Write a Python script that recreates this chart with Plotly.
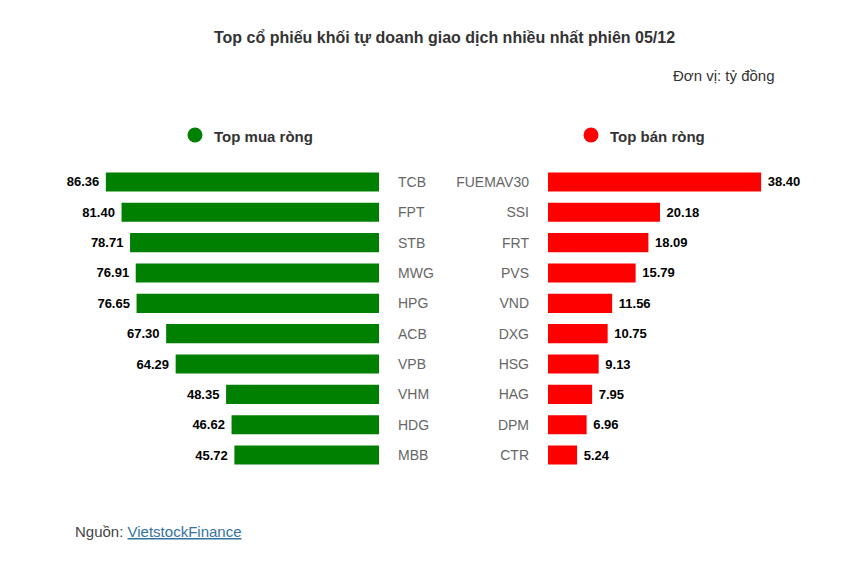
import plotly.graph_objects as go

# -------------------------------------------------
# Data: top net buy / net sell, units: ty dong
# -------------------------------------------------

buy_tickers = ["TCB", "FPT", "STB", "MWG", "HPG", "ACB", "VPB", "VHM", "HDG", "MBB"]
buy_values = [86.36, 81.40, 78.71, 76.91, 76.65, 67.30, 64.29, 48.35, 46.62, 45.72]

sell_tickers = ["FUEMAV30", "SSI", "FRT", "PVS", "VND", "DXG", "HSG", "HAG", "DPM", "CTR"]
sell_values = [38.40, 20.18, 18.09, 15.79, 11.56, 10.75, 9.13, 7.95, 6.96, 5.24]

W, H = 846, 570
OFF = 8  # page body margin
FONT = "Arial, Liberation Sans, sans-serif"


def px_x(p):
    return (p - OFF) / W


def px_y(p):
    return 1 - (p - OFF) / H


fig = go.Figure()

fig.add_trace(go.Bar(
    x=buy_values,
    y=buy_tickers,
    orientation="h",
    marker=dict(color="#008000", line=dict(width=0)),
    text=[f"{v:.2f}\u00a0" for v in buy_values],
    textposition="outside",
    textfont=dict(family=FONT, size=13, color="#000000", weight="bold"),
    xaxis="x",
    yaxis="y",
    hoverinfo="skip",
))

fig.add_trace(go.Bar(
    x=sell_values,
    y=sell_tickers,
    orientation="h",
    marker=dict(color="#ff0000", line=dict(width=0)),
    text=[f"\u00a0{v:.2f}" for v in sell_values],
    textposition="outside",
    textfont=dict(family=FONT, size=13, color="#000000", weight="bold"),
    xaxis="x2",
    yaxis="y2",
    hoverinfo="skip",
))

# plot area: left bars end at x=379, right bars start at x=548
left_x0, left_x1 = 40, 379
right_x0, right_x1 = 548, 820
y_top, y_bot = 166.8, 470.2

fig.update_layout(
    width=W,
    height=H,
    margin=dict(l=0, r=0, t=0, b=0),
    paper_bgcolor="white",
    plot_bgcolor="white",
    showlegend=False,
    bargap=0.37,
    font=dict(family=FONT, color="#333333"),
    xaxis=dict(
        domain=[px_x(left_x0), px_x(left_x1)],
        range=[(left_x1 - left_x0) / 3.163, 0],
        visible=False,
        anchor="y",
    ),
    yaxis=dict(
        domain=[px_y(y_bot), px_y(y_top)],
        autorange="reversed",
        side="right",
        anchor="x",
        showgrid=False,
        zeroline=False,
        showline=False,
        ticks="",
        ticklabelstandoff=18,
        tickfont=dict(family=FONT, size=14, color="#666666"),
    ),
    xaxis2=dict(
        domain=[px_x(right_x0), px_x(right_x1)],
        range=[0, (right_x1 - right_x0) / 5.55],
        visible=False,
        anchor="y2",
    ),
    yaxis2=dict(
        domain=[px_y(y_bot), px_y(y_top)],
        autorange="reversed",
        side="left",
        anchor="x2",
        showgrid=False,
        zeroline=False,
        showline=False,
        ticks="",
        ticklabelstandoff=18,
        tickfont=dict(family=FONT, size=14, color="#666666"),
    ),
)

# titles and notes
fig.add_annotation(
    text="<b>Top cổ phiếu khối tự doanh giao dịch nhiều nhất phiên 05/12</b>",
    x=px_x(444), y=px_y(37), xref="paper", yref="paper",
    xanchor="center", yanchor="middle", showarrow=False,
    font=dict(family=FONT, size=16, color="#333333"),
)
fig.add_annotation(
    text="Đơn vị: tỷ đồng",
    x=px_x(777), y=px_y(75), xref="paper", yref="paper",
    xanchor="right", yanchor="middle", showarrow=False,
    font=dict(family=FONT, size=15, color="#333333"),
)

# panel headers with coloured dots
for cx, label, color in [(195, "Top mua ròng", "#008000"), (591, "Top bán ròng", "#ff0000")]:
    r = 7.5
    fig.add_shape(
        type="circle", xref="paper", yref="paper",
        x0=px_x(cx - r), x1=px_x(cx + r), y0=px_y(135 + r), y1=px_y(135 - r),
        fillcolor=color, line=dict(width=0),
    )
    fig.add_annotation(
        text=f"<b>{label}</b>",
        x=px_x(cx + 17), y=px_y(136), xref="paper", yref="paper",
        xanchor="left", yanchor="middle", showarrow=False,
        font=dict(family=FONT, size=15, color="#333333"),
    )

fig.add_annotation(
    text="Nguồn: <span style='color:#35739e'><u>VietstockFinance</u></span>",
    x=px_x(73), y=px_y(531), xref="paper", yref="paper",
    xanchor="left", yanchor="middle", showarrow=False,
    font=dict(family=FONT, size=15, color="#444444"),
)

fig.write_html("out.html")
